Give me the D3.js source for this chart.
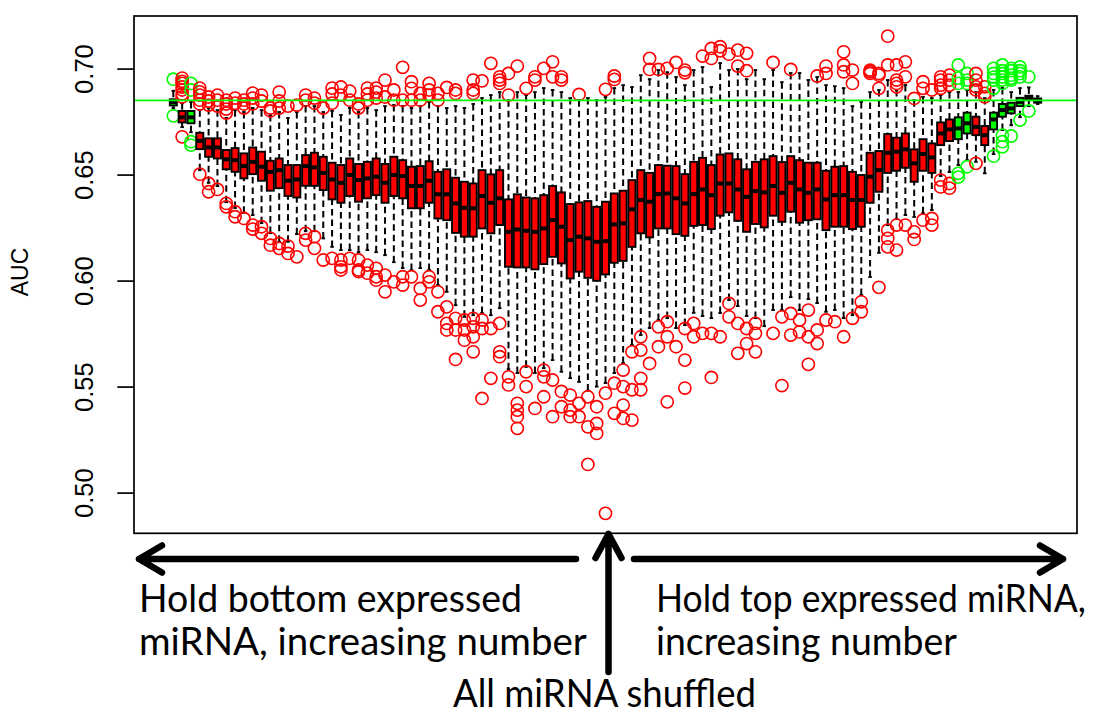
<!DOCTYPE html>
<html>
<head>
<meta charset="utf-8">
<script src="https://cdn.jsdelivr.net/npm/d3@7"></script>
<style>
  body { margin: 0; background: #fff; }
  svg { display: block; }
</style>
</head>
<body>
<svg id="chart" width="1116" height="720"></svg>
<script>
// box statistics, one entry per shuffle setting (left: hold bottom, middle: all shuffled, right: hold top)
const BOX_LO = [
  0.6814, 0.6724, 0.6700, 0.6521, 0.6461, 0.6446, 0.6370, 0.6342, 0.6320, 0.6309,
  0.6271, 0.6224, 0.6183, 0.6183, 0.6219, 0.6233, 0.6233, 0.6199, 0.6159, 0.6144,
  0.6144, 0.6134, 0.6144, 0.6134, 0.6120, 0.6087, 0.6059, 0.6050, 0.6059, 0.6050,
  0.5979, 0.5947, 0.5884, 0.5829, 0.5837, 0.5847, 0.5837, 0.5870, 0.5582, 0.5564,
  0.5593, 0.5564, 0.5587, 0.5625, 0.5570, 0.5540, 0.5522, 0.5481, 0.5500, 0.5517,
  0.5564, 0.5611, 0.5696, 0.5743, 0.5776, 0.5814, 0.5823, 0.5776, 0.5790, 0.5848,
  0.5833, 0.5823, 0.5847, 0.5908, 0.5880, 0.5833, 0.5823, 0.5785, 0.5861, 0.5861,
  0.5922, 0.5861, 0.5913, 0.5894, 0.5853, 0.5861, 0.5823, 0.5837, 0.5932, 0.6017,
  0.6131, 0.6262, 0.6290, 0.6309, 0.6300, 0.6318, 0.6333, 0.6493, 0.6512, 0.6545,
  0.6568, 0.6560, 0.6506, 0.6597, 0.6710, 0.6733, 0.6771, 0.6823, 0.6833
];
const BOX_Q1 = [
  0.6826, 0.6746, 0.6742, 0.6620, 0.6584, 0.6576, 0.6525, 0.6513, 0.6482, 0.6502,
  0.6471, 0.6424, 0.6436, 0.6399, 0.6392, 0.6447, 0.6447, 0.6427, 0.6383, 0.6367,
  0.6399, 0.6372, 0.6388, 0.6403, 0.6367, 0.6399, 0.6388, 0.6341, 0.6341, 0.6367,
  0.6293, 0.6285, 0.6225, 0.6207, 0.6207, 0.6246, 0.6223, 0.6262, 0.6065, 0.6062,
  0.6062, 0.6053, 0.6078, 0.6112, 0.6081, 0.6010, 0.6042, 0.6013, 0.5999, 0.6029,
  0.6084, 0.6093, 0.6159, 0.6223, 0.6204, 0.6246, 0.6246, 0.6219, 0.6211, 0.6258,
  0.6262, 0.6243, 0.6306, 0.6322, 0.6282, 0.6230, 0.6267, 0.6251, 0.6306, 0.6277,
  0.6325, 0.6273, 0.6285, 0.6289, 0.6238, 0.6254, 0.6254, 0.6243, 0.6254, 0.6367,
  0.6419, 0.6508, 0.6518, 0.6532, 0.6466, 0.6518, 0.6508, 0.6639, 0.6658, 0.6667,
  0.6694, 0.6686, 0.6639, 0.6713, 0.6773, 0.6789, 0.6823, 0.6851, 0.6839
];
const BOX_MED = [
  0.6842, 0.6770, 0.6770, 0.6659, 0.6628, 0.6628, 0.6572, 0.6568, 0.6540, 0.6560,
  0.6537, 0.6513, 0.6521, 0.6471, 0.6477, 0.6540, 0.6534, 0.6508, 0.6477, 0.6461,
  0.6498, 0.6474, 0.6482, 0.6490, 0.6461, 0.6498, 0.6493, 0.6446, 0.6446, 0.6471,
  0.6407, 0.6407, 0.6364, 0.6343, 0.6341, 0.6399, 0.6367, 0.6388, 0.6230, 0.6241,
  0.6235, 0.6230, 0.6246, 0.6285, 0.6254, 0.6191, 0.6207, 0.6199, 0.6183, 0.6186,
  0.6265, 0.6270, 0.6336, 0.6380, 0.6372, 0.6408, 0.6411, 0.6388, 0.6364, 0.6408,
  0.6430, 0.6403, 0.6458, 0.6458, 0.6430, 0.6395, 0.6422, 0.6416, 0.6446, 0.6414,
  0.6461, 0.6430, 0.6414, 0.6430, 0.6383, 0.6403, 0.6403, 0.6380, 0.6380, 0.6490,
  0.6521, 0.6603, 0.6608, 0.6619, 0.6553, 0.6597, 0.6581, 0.6694, 0.6713, 0.6718,
  0.6742, 0.6725, 0.6686, 0.6760, 0.6804, 0.6812, 0.6843, 0.6862, 0.6850
];
const BOX_Q3 = [
  0.6855, 0.6800, 0.6800, 0.6697, 0.6671, 0.6671, 0.6616, 0.6625, 0.6600, 0.6628,
  0.6608, 0.6565, 0.6576, 0.6545, 0.6545, 0.6592, 0.6603, 0.6584, 0.6556, 0.6545,
  0.6576, 0.6550, 0.6560, 0.6576, 0.6550, 0.6584, 0.6568, 0.6537, 0.6540, 0.6563,
  0.6513, 0.6525, 0.6485, 0.6466, 0.6458, 0.6521, 0.6501, 0.6521, 0.6383, 0.6407,
  0.6392, 0.6388, 0.6403, 0.6446, 0.6416, 0.6361, 0.6369, 0.6375, 0.6348, 0.6372,
  0.6411, 0.6424, 0.6474, 0.6521, 0.6508, 0.6545, 0.6542, 0.6540, 0.6502, 0.6560,
  0.6579, 0.6545, 0.6595, 0.6600, 0.6572, 0.6525, 0.6560, 0.6572, 0.6587, 0.6559,
  0.6587, 0.6568, 0.6556, 0.6556, 0.6518, 0.6537, 0.6540, 0.6513, 0.6498, 0.6603,
  0.6611, 0.6691, 0.6674, 0.6694, 0.6619, 0.6667, 0.6647, 0.6746, 0.6760, 0.6770,
  0.6792, 0.6773, 0.6729, 0.6792, 0.6833, 0.6839, 0.6862, 0.6872, 0.6859
];
const BOX_HI = [
  0.6895, 0.6837, 0.6842, 0.6804, 0.6814, 0.6804, 0.6767, 0.6804, 0.6795, 0.6814,
  0.6804, 0.6781, 0.6795, 0.6767, 0.6795, 0.6823, 0.6823, 0.6795, 0.6800, 0.6781,
  0.6814, 0.6795, 0.6814, 0.6804, 0.6823, 0.6828, 0.6823, 0.6814, 0.6823, 0.6842,
  0.6823, 0.6814, 0.6823, 0.6814, 0.6833, 0.6861, 0.6875, 0.6889, 0.6851, 0.6889,
  0.6875, 0.6889, 0.6908, 0.6899, 0.6889, 0.6861, 0.6851, 0.6861, 0.6851, 0.6866,
  0.6908, 0.6922, 0.6913, 0.6969, 0.6950, 0.6993, 0.6983, 0.6960, 0.6922, 0.6993,
  0.7007, 0.6913, 0.7026, 0.6993, 0.6998, 0.6950, 0.6993, 0.6950, 0.6993, 0.6936,
  0.6979, 0.6979, 0.6946, 0.6960, 0.6922, 0.6917, 0.6908, 0.6823, 0.6842, 0.6889,
  0.6899, 0.6946, 0.6899, 0.6922, 0.6851, 0.6866, 0.6861, 0.6875, 0.6889, 0.6889,
  0.6899, 0.6889, 0.6861, 0.6899, 0.6908, 0.6889, 0.6908, 0.6911, 0.6870
];
const OUTLIERS = [
  [0.6950, 0.6777],
  [0.6955, 0.6940, 0.6930, 0.6913, 0.6899, 0.6880, 0.6866, 0.6678],
  [0.6930, 0.6899, 0.6655, 0.6639],
  [0.6908, 0.6890, 0.6875, 0.6851, 0.6833, 0.6502],
  [0.6866, 0.6847, 0.6828, 0.6458, 0.6419],
  [0.6875, 0.6851, 0.6823, 0.6430],
  [0.6851, 0.6833, 0.6809, 0.6790, 0.6364, 0.6348],
  [0.6861, 0.6837, 0.6325, 0.6301],
  [0.6851, 0.6833, 0.6814, 0.6293],
  [0.6884, 0.6861, 0.6833, 0.6262, 0.6243],
  [0.6875, 0.6847, 0.6254, 0.6223],
  [0.6814, 0.6800, 0.6199, 0.6167],
  [0.6889, 0.6847, 0.6814, 0.6175, 0.6152],
  [0.6823, 0.6163, 0.6128],
  [0.6828, 0.6112],
  [0.6875, 0.6851, 0.6223, 0.6191],
  [0.6861, 0.6837, 0.6207, 0.6152],
  [0.6814, 0.6097],
  [0.6908, 0.6880, 0.6837, 0.6105],
  [0.6913, 0.6875, 0.6097, 0.6065, 0.6050],
  [0.6894, 0.6851, 0.6105],
  [0.6833, 0.6814, 0.6097, 0.6050, 0.6042],
  [0.6908, 0.6880, 0.6851, 0.6073, 0.6035],
  [0.6908, 0.6889, 0.6861, 0.6058, 0.6018, 0.6002],
  [0.6946, 0.6866, 0.6026, 0.5947],
  [0.6899, 0.6851, 0.5994],
  [0.7006, 0.6851, 0.6018, 0.5979],
  [0.6938, 0.6907, 0.6851, 0.6018],
  [0.6883, 0.6851, 0.5963, 0.5908],
  [0.6930, 0.6899, 0.6875, 0.6018, 0.5994],
  [0.6883, 0.6851, 0.5947, 0.5853],
  [0.6911, 0.5876, 0.5798, 0.5767],
  [0.6899, 0.6883, 0.5822, 0.5767, 0.5628],
  [0.5814, 0.5767, 0.5719],
  [0.6946, 0.6899, 0.6883, 0.5822, 0.5782, 0.5735, 0.5664],
  [0.6942, 0.5814, 0.5774, 0.5444],
  [0.7025, 0.5774, 0.5539],
  [0.6961, 0.6946, 0.6930, 0.5798, 0.5664, 0.5641],
  [0.6977, 0.6875, 0.5546, 0.5508],
  [0.7012, 0.5421, 0.5389, 0.5358, 0.5303],
  [0.6907, 0.5570, 0.5500],
  [0.6961, 0.6946, 0.5397],
  [0.7001, 0.5578, 0.5546, 0.5452],
  [0.7032, 0.6961, 0.5531, 0.5358],
  [0.6961, 0.6946, 0.5477, 0.5405],
  [0.5460, 0.5389, 0.5358],
  [0.6878, 0.5421, 0.5358],
  [0.5452, 0.5310, 0.5133],
  [0.5405, 0.5326, 0.5279],
  [0.6902, 0.5469, 0.4902],
  [0.6965, 0.6949, 0.5516, 0.5374],
  [0.5578, 0.5500, 0.5413, 0.5350],
  [0.5664, 0.5485, 0.5342],
  [0.5735, 0.5672, 0.5539, 0.5485],
  [0.7048, 0.6996, 0.5609],
  [0.6996, 0.5782, 0.5688],
  [0.7001, 0.5806, 0.5735, 0.5428],
  [0.7029, 0.5688],
  [0.6993, 0.6980, 0.5774, 0.5625, 0.5493],
  [0.5798, 0.5735],
  [0.7059, 0.5751],
  [0.7095, 0.7048, 0.5751, 0.5543],
  [0.7103, 0.7084, 0.5735],
  [0.7068, 0.5892, 0.5829],
  [0.7087, 0.7012, 0.5798, 0.5657],
  [0.7072, 0.6990, 0.5774, 0.5703],
  [0.5798, 0.5751, 0.5664],
  [],
  [0.7029, 0.5751],
  [0.5829, 0.5505],
  [0.6996, 0.5845, 0.5743],
  [0.5814, 0.5758],
  [0.5861, 0.5735, 0.5605],
  [0.6965, 0.5767, 0.5703],
  [0.7012, 0.6977, 0.5814],
  [0.5806],
  [0.7079, 0.7017, 0.6985, 0.5735],
  [0.6993, 0.6930, 0.5822],
  [0.5900, 0.5853],
  [0.6993, 0.6985, 0.6977],
  [0.6977, 0.6969, 0.6907, 0.5968],
  [0.7153, 0.7017, 0.6238, 0.6199, 0.6159],
  [0.7017, 0.6946, 0.6930, 0.6914, 0.6262, 0.6144],
  [0.7032, 0.6961, 0.6262],
  [0.6859, 0.6230, 0.6194],
  [0.6938, 0.6907, 0.6285],
  [0.6899, 0.6293, 0.6262],
  [0.6961, 0.6946, 0.6922, 0.6907, 0.6474, 0.6442],
  [0.6969, 0.6946, 0.6922, 0.6458, 0.6436],
  [0.7017, 0.6955, 0.6930, 0.6506, 0.6488],
  [0.6977, 0.6946, 0.6930, 0.6537],
  [0.6977, 0.6946, 0.6914, 0.6899, 0.6553],
  [0.6914, 0.6883, 0.6867],
  [0.7001, 0.6977, 0.6960, 0.6946, 0.6907, 0.6587],
  [0.7017, 0.6990, 0.6977, 0.6960, 0.6946, 0.6930, 0.6686, 0.6655, 0.6631],
  [0.7001, 0.6990, 0.6969, 0.6955, 0.6946, 0.6682],
  [0.7008, 0.6990, 0.6977, 0.6961, 0.6757],
  [0.6961, 0.6800],
  []
];
// boxes not different from the unshuffled AUC are filled green
const GREEN_BOXES = [0, 2, 89, 90, 93, 94, 95, 96, 97, 98];
const REF_AUC = 0.685;
const Y_TICKS = [0.50, 0.55, 0.60, 0.65, 0.70];
const Y_LABEL = 'AUC';

const NOTES = [
  { text: 'Hold bottom expressed', x: 139, y: 611.5, len: 383 },
  { text: 'miRNA, increasing number', x: 139, y: 655, len: 448 },
  { text: 'Hold top expressed miRNA,', x: 656, y: 611.5, len: 430 },
  { text: 'increasing number', x: 656, y: 655, len: 301 },
  { text: 'All miRNA shuffled', x: 453, y: 707, len: 303 }
];

const RED = '#ff0000', GREEN = '#00ff00';
const PLOT = { left: 134, right: 1077, top: 16, bottom: 533.3 };

const svg = d3.select('#chart');
const n = BOX_MED.length;
const pad = 0.04 * n;

const x = d3.scaleLinear()
  .domain([0.5 - pad, n + 0.5 + pad])
  .range([PLOT.left, PLOT.right]);
const y = d3.scaleLinear()
  .domain([0.4808, 0.7248])
  .range([PLOT.bottom, PLOT.top]);

const half = (x(1) - x(0)) * 0.4;
const stapleHalf = half * 0.5;

const boxes = BOX_MED.map((m, i) => ({
  i, pos: i + 1,
  lo: BOX_LO[i], q1: BOX_Q1[i], med: m, q3: BOX_Q3[i], hi: BOX_HI[i],
  out: OUTLIERS[i],
  col: GREEN_BOXES.includes(i) ? GREEN : RED
}));

const g = svg.append('g');

const bg = g.selectAll('g.box').data(boxes).join('g').attr('class', 'box');

// whiskers (dashed), drawn from the end back to the box like R does
bg.each(function(d) {
  const s = d3.select(this);
  const cx = x(d.pos);
  [[d.lo, d.q1], [d.hi, d.q3]].forEach(([a, b]) => {
    s.append('line')
      .attr('x1', cx).attr('x2', cx)
      .attr('y1', y(a)).attr('y2', y(b))
      .attr('stroke', '#000').attr('stroke-width', 2)
      .attr('stroke-dasharray', '6.5,4');
    s.append('line')
      .attr('x1', cx - stapleHalf).attr('x2', cx + stapleHalf)
      .attr('y1', y(a)).attr('y2', y(a))
      .attr('stroke', '#000').attr('stroke-width', 1.9);
  });
  s.append('rect')
    .attr('x', cx - half).attr('width', half * 2)
    .attr('y', y(d.q3)).attr('height', Math.max(0.5, y(d.q1) - y(d.q3)))
    .attr('fill', d.col)
    .attr('stroke', '#000').attr('stroke-width', 1.9);
  s.append('line')
    .attr('x1', cx - half).attr('x2', cx + half)
    .attr('y1', y(d.med)).attr('y2', y(d.med))
    .attr('stroke', '#000').attr('stroke-width', 4);
  s.selectAll('circle').data(d.out).join('circle')
    .attr('cx', cx).attr('cy', v => y(v))
    .attr('r', 6.1)
    .attr('fill', 'none')
    .attr('stroke', d.col).attr('stroke-width', 1.6);
});

// reference AUC of the unshuffled data
g.append('line')
  .attr('x1', PLOT.left).attr('x2', PLOT.right)
  .attr('y1', y(REF_AUC)).attr('y2', y(REF_AUC))
  .attr('stroke', GREEN).attr('stroke-width', 1.6);

// frame
svg.append('rect')
  .attr('x', PLOT.left).attr('y', PLOT.top)
  .attr('width', PLOT.right - PLOT.left).attr('height', PLOT.bottom - PLOT.top)
  .attr('fill', 'none').attr('stroke', '#000').attr('stroke-width', 1.7);

// y axis
const yAxis = svg.append('g')
  .attr('transform', `translate(${PLOT.left},0)`)
  .call(d3.axisLeft(y).tickValues(Y_TICKS).tickSize(16.7).tickFormat(d3.format('.2f')));
yAxis.select('.domain').remove();
yAxis.selectAll('.tick line').attr('stroke', '#000').attr('stroke-width', 1.7);
yAxis.selectAll('.tick text')
  .attr('x', null).attr('dy', null)
  .attr('transform', 'translate(-40.7,0) rotate(-90)')
  .attr('text-anchor', 'middle')
  .attr('fill', '#000')
  .style('font-family', '"Liberation Sans", Arial, sans-serif')
  .style('font-size', '25.5px');

svg.append('text')
  .attr('transform', 'translate(28.3,272) rotate(-90)')
  .attr('text-anchor', 'middle')
  .style('font-family', '"Liberation Sans", Arial, sans-serif')
  .style('font-size', '23px')
  .text(Y_LABEL);

// annotation arrows under the plot
const arrows = svg.append('g')
  .attr('fill', 'none').attr('stroke', '#000')
  .attr('stroke-width', 6.5)
  .attr('stroke-linecap', 'round').attr('stroke-linejoin', 'round');
arrows.append('path').attr('d', 'M576,559 L139,559 M162,545.5 L139,559 L162,572.5');
arrows.append('path').attr('d', 'M634,559 L1063,559 M1040,545.5 L1063,559 L1040,572.5');
arrows.append('path').attr('d', 'M608.5,672 L608.5,534 M595.5,558 L608.5,534 L621.5,558');

// the notes were set in a narrow face; squeeze Lato horizontally to the same width
svg.append('g').selectAll('text').data(NOTES).join('text')
  .style('font-family', 'Lato, "Open Sans", sans-serif')
  .style('font-size', '39.5px')
  .attr('fill', '#000')
  .text(d => d.text)
  .attr('transform', function(d) {
    const w = this.getComputedTextLength() || d.len;
    return `translate(${d.x},${d.y}) scale(${d.len / w},1)`;
  });
</script>
</body>
</html>
